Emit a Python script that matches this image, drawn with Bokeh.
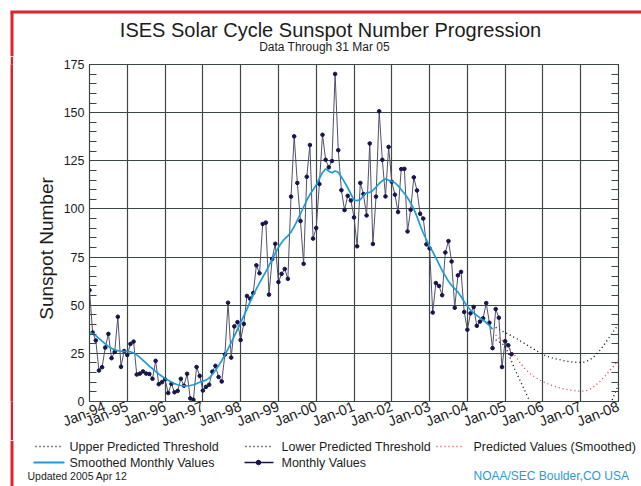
import math
import numpy as np
from bokeh.plotting import figure
from bokeh.layouts import column, row
from bokeh.models import Range1d, FixedTicker, SingleIntervalTicker, LinearAxis, Spacer
from bokeh.core.properties import value
from bokeh.embed import file_html
from bokeh.resources import INLINE

# ---------------- data ----------------
MONTHLY_START_YEAR = 1994
monthly_1994 = [57.8, 35.8, 31.7, 16.1, 17.8, 28.0, 35.1, 22.5, 25.7, 44.0, 18.0, 26.2]
monthly_1995 = [24.2, 29.9, 31.1, 14.0, 14.5, 15.6, 14.5, 14.3, 11.8, 21.1, 9.0, 10.0]
monthly_1996 = [11.5, 4.4, 9.2, 4.8, 5.5, 11.8, 8.2, 14.4, 1.6, 0.9, 17.9, 13.3]
monthly_1997 = [5.7, 7.6, 8.7, 15.5, 18.5, 12.7, 10.4, 24.4, 51.3, 22.8, 39.0, 41.2]
monthly_1998 = [31.9, 40.3, 54.8, 53.4, 56.3, 70.7, 66.6, 92.2, 92.9, 55.5, 74.0, 81.9]
monthly_1999 = [62.0, 66.3, 68.8, 63.7, 106.4, 137.7, 113.5, 93.7, 71.5, 116.7, 133.2, 84.6]
monthly_2000 = [90.1, 112.9, 138.5, 125.5, 121.6, 124.9, 170.1, 130.5, 109.7, 99.4, 106.8, 104.4]
monthly_2001 = [95.6, 80.6, 113.5, 107.7, 96.6, 134.0, 81.8, 106.4, 150.7, 125.5, 106.5, 132.2]
monthly_2002 = [114.1, 107.4, 98.4, 120.7, 120.8, 88.3, 99.6, 116.4, 109.6, 97.5, 95.0, 81.6]
monthly_2003 = [79.5, 46.2, 61.5, 60.0, 55.2, 77.4, 83.3, 72.7, 48.7, 65.5, 67.3, 46.5]
monthly_2004 = [37.3, 45.8, 49.1, 39.3, 41.5, 43.2, 51.1, 40.9, 27.7, 48.0, 43.5, 17.9]
monthly_2005 = [31.3, 29.2, 24.5]

smoothed_1994 = [36.0, 35.2, 34.2, 32.8, 31.3, 29.9, 28.6, 27.6, 26.9, 26.4, 26.1, 26.0]
smoothed_1995 = [26.0, 25.8, 25.2, 24.2, 22.9, 21.4, 19.9, 18.4, 17.0, 15.6, 14.3, 13.1]
smoothed_1996 = [12.0, 11.0, 10.1, 9.3, 8.7, 8.3, 8.1, 8.1, 8.3, 8.7, 9.3, 10.0]
smoothed_1997 = [10.6, 11.1, 12.2, 14.0, 16.2, 18.6, 21.3, 24.2, 27.3, 30.6, 34.0, 37.4]
smoothed_1998 = [41.0, 44.5, 48.0, 51.7, 55.2, 58.5, 61.6, 64.5, 67.4, 70.5, 73.8, 77.0]
smoothed_1999 = [80.0, 82.5, 84.5, 86.0, 88.0, 90.8, 94.0, 97.5, 101.0, 104.5, 107.5, 110.0]
smoothed_2000 = [112.5, 115.8, 118.9, 120.8, 119.6, 118.8, 119.7, 119.0, 116.6, 113.9, 111.0, 107.8]
smoothed_2001 = [104.6, 104.3, 104.8, 107.0, 108.3, 108.6, 109.6, 111.3, 113.2, 114.6, 115.6, 114.9]
smoothed_2002 = [114.3, 113.6, 112.0, 110.0, 108.0, 105.8, 103.2, 100.0, 96.0, 91.5, 87.5, 84.0]
smoothed_2003 = [80.8, 77.8, 74.6, 71.3, 68.0, 65.2, 62.4, 60.2, 58.6, 56.8, 54.5, 51.8]
smoothed_2004 = [49.5, 47.5, 46.0, 44.7, 43.4, 42.2, 41.0, 39.4, 37.6]

# predictions, monthly from Oct 2004 to Jan 2008
PRED_START_YEAR = 2004
PRED_START_MONTH = 10
predicted_smoothed = [34.5, 33.0, 31.8,
                      30.5, 28.5, 26.3, 24.0, 21.8, 19.6, 17.6, 15.9, 14.4, 13.2, 12.1, 11.1,
                      10.3, 9.6, 8.9, 8.3, 7.7, 7.2, 6.8, 6.4, 6.1, 5.8, 5.6, 5.4,
                      5.3, 5.4, 5.8, 6.5, 7.5, 8.8, 10.3, 11.9, 13.7, 15.6, 17.5, 19.5,
                      21.5]
upper_threshold = [38.5, 37.5, 36.6,
                   35.8, 35.0, 34.1, 33.2, 32.3, 31.3, 30.3, 29.3, 28.3, 27.3, 26.3, 25.3,
                   24.4, 23.7, 23.1, 22.6, 22.2, 21.8, 21.4, 21.1, 20.8, 20.6, 20.4, 20.3,
                   20.3, 20.5, 21.0, 21.8, 23.0, 24.6, 26.4, 28.5, 30.8, 33.2, 35.6, 37.8,
                   40.0]
lower_threshold = [32.0, 31.0, 30.0,
                   29.0, 25.0, 21.0, 17.0, 13.5, 10.0, 6.5, 3.0, -0.5, None, None, None,
                   None, None, None, None, None, None, None, None, None, None, None, None,
                   None, None, None, None, None, None, None, None, None, -3.0, 0.8, 4.8,
                   9.0]

year_ticks = list(range(1994, 2009))
year_tick_labels = ["Jan-94", "Jan-95", "Jan-96", "Jan-97", "Jan-98", "Jan-99", "Jan-00",
                    "Jan-01", "Jan-02", "Jan-03", "Jan-04", "Jan-05", "Jan-06", "Jan-07",
                    "Jan-08"]
minor_y_ticks = [v for v in range(0, 176, 5) if v % 25 != 0]

TITLE = "ISES Solar Cycle Sunspot Number Progression"
SUBTITLE = "Data Through 31 Mar 05"
Y_LABEL = "Sunspot Number"
LEGEND_LABELS = ["Upper Predicted Threshold", "Lower Predicted Threshold",
                 "Predicted Values (Smoothed)", "Smoothed Monthly Values", "Monthly Values"]
UPDATED = "Updated 2005 Apr 12"
CREDIT = "NOAA/SEC Boulder,CO USA"

# ---------------- build series ----------------
monthly = (monthly_1994 + monthly_1995 + monthly_1996 + monthly_1997 + monthly_1998 +
           monthly_1999 + monthly_2000 + monthly_2001 + monthly_2002 + monthly_2003 +
           monthly_2004 + monthly_2005)
smoothed = (smoothed_1994 + smoothed_1995 + smoothed_1996 + smoothed_1997 + smoothed_1998 +
            smoothed_1999 + smoothed_2000 + smoothed_2001 + smoothed_2002 + smoothed_2003 +
            smoothed_2004)
mx = [MONTHLY_START_YEAR + i / 12 for i in range(len(monthly))]
smx = [MONTHLY_START_YEAR + i / 12 for i in range(len(smoothed))]
p0 = PRED_START_YEAR + (PRED_START_MONTH - 1) / 12
px = [p0 + i / 12 for i in range(len(predicted_smoothed))]

# ---------------- style ----------------
GRID = "#3c4643"
TEXT = "#1c1c1c"
FONT = "Liberation Sans"
RED = "#e8312b"
BORDER = "#e0232b"
BLUE = "#1f9ad6"
NAVY = "#15154a"
CREDIT_BLUE = "#2a9ad6"

W = 641
TOP_H, MID_H, BOT_H = 56, 384, 46
GAP_W, BAR_W = 10, 3            # white gap + red border bar at the left
BX = GAP_W + BAR_W / 2          # centre of the red border line
LABEL_W = 47                    # strip holding the y-axis title
PLOT_LEFT, PLOT_TOP, PLOT_BOTTOM = 89, 64, 401
MAIN_W = W - GAP_W - BAR_W - LABEL_W


def strip(width, height):
    f = figure(width=width, height=height, output_backend="svg", toolbar_location=None,
               x_range=Range1d(0, width), y_range=Range1d(height, 0),
               x_axis_type=None, y_axis_type=None, min_border=0,
               min_border_left=0, min_border_right=0, min_border_top=0,
               min_border_bottom=0)
    f.outline_line_color = None
    f.background_fill_color = "white"
    f.border_fill_color = "white"
    return f


# ---------------- title strip ----------------
top = strip(W, TOP_H)
top.line([BX, BX], [BX, TOP_H], line_color=BORDER, line_width=BAR_W)
top.line([GAP_W, W], [BX, BX], line_color=BORDER, line_width=BAR_W)
top.text(x=[330], y=[29.5], text=[TITLE], text_font=value(FONT),
         text_font_size=value("20px"), text_color=TEXT, text_align="center",
         text_baseline="middle")
top.text(x=[324], y=[46], text=[SUBTITLE], text_font=value(FONT),
         text_font_size=value("12px"), text_color=TEXT, text_align="center",
         text_baseline="middle")

# ---------------- left red border bar ----------------
gap = Spacer(width=GAP_W, height=MID_H, margin=0)
bar = figure(width=BAR_W, height=MID_H, output_backend="svg", toolbar_location=None,
             x_axis_type=None, y_axis_type=None, min_border=0, min_border_left=0,
             min_border_right=0, min_border_top=0, min_border_bottom=0)
bar.outline_line_color = None
bar.background_fill_color = BORDER
bar.border_fill_color = BORDER
bar.grid.visible = False

# ---------------- y-axis title strip (frame aligned with the chart frame) ----------------
x0 = GAP_W + BAR_W
ylab = figure(width=LABEL_W, height=MID_H, output_backend="svg", toolbar_location=None,
              x_range=Range1d(x0, x0 + LABEL_W), y_range=Range1d(PLOT_BOTTOM, PLOT_TOP),
              x_axis_type=None, y_axis_type=None, min_border=0, min_border_left=0,
              min_border_right=0, min_border_top=0, min_border_bottom=0)
ylab.outline_line_color = None
ylab.background_fill_color = "white"
ylab.border_fill_color = "white"
ylab.text(x=[46], y=[248], text=[Y_LABEL], text_font=value(FONT),
          text_font_size=value("19px"), text_color=TEXT, text_align="center",
          text_baseline="middle", angle=math.pi / 2)

# ---------------- main chart ----------------
p = figure(width=MAIN_W, height=MID_H, output_backend="svg", toolbar_location=None,
           x_range=Range1d(1994, 2008), y_range=Range1d(0, 175),
           min_border_left=PLOT_LEFT - x0 - LABEL_W, min_border_right=23,
           min_border_top=PLOT_TOP - TOP_H, min_border_bottom=TOP_H + MID_H - PLOT_BOTTOM)
p.background_fill_color = "white"
p.border_fill_color = "white"
p.outline_line_color = GRID
p.outline_line_width = 1.2

yt = SingleIntervalTicker(interval=25, num_minor_ticks=5)
p.yaxis.ticker = yt
p.ygrid.ticker = yt
xt = FixedTicker(ticks=year_ticks, minor_ticks=[])
p.xaxis.ticker = xt
p.xgrid.ticker = xt
for g in (p.xgrid, p.ygrid):
    g.grid_line_color = GRID
    g.grid_line_width = 1.2
    g.grid_line_alpha = 1.0

for ax in (p.xaxis, p.yaxis):
    ax.axis_line_color = GRID
    ax.major_tick_in = 0
    ax.major_tick_out = 0
    ax.major_label_text_font = FONT
    ax.major_label_text_color = TEXT

p.yaxis.minor_tick_in = 7
p.yaxis.minor_tick_out = 0
p.yaxis.minor_tick_line_color = GRID
p.yaxis.major_label_text_font_size = "12.5px"
p.yaxis.major_label_standoff = 5

p.xaxis.minor_tick_line_color = None
p.xaxis.major_label_overrides = {t: lab for t, lab in zip(year_ticks, year_tick_labels)}
p.xaxis.major_label_orientation = 0.38
p.xaxis.major_label_text_font_size = "14.5px"
p.xaxis.major_label_standoff = 4

ra = LinearAxis(ticker=FixedTicker(ticks=[], minor_ticks=minor_y_ticks),
                major_tick_in=0, major_tick_out=0, minor_tick_in=7, minor_tick_out=0,
                minor_tick_line_color=GRID, axis_line_color=GRID)
p.add_layout(ra, "right")

p.line(px, upper_threshold, line_color="black", line_width=1.3, line_dash="1 3")
p.line(px, np.array(lower_threshold, dtype=float), line_color="black", line_width=1.3,
       line_dash="1 3")
p.line(px, predicted_smoothed, line_color=RED, line_width=1.3, line_dash="1 3")
p.line(mx, monthly, line_color="#50506c", line_width=1)
p.scatter(mx, monthly, size=3.6, marker="circle", color=NAVY)
p.line(smx, smoothed, line_color=BLUE, line_width=1.7)

# ---------------- legend strip ----------------
bot = strip(W, BOT_H)
bot.line([BX, BX], [0, BOT_H], line_color=BORDER, line_width=BAR_W)
R1, R2, R3 = 6, 22, 35.5
bot.line([35, 62], [R1, R1], line_color="black", line_width=1.3, line_dash="1 3")
bot.line([245, 272], [R1, R1], line_color="black", line_width=1.3, line_dash="1 3")
bot.line([436, 463], [R1, R1], line_color=RED, line_width=1.3, line_dash="1 3")
bot.line([33, 64], [R2, R2], line_color=BLUE, line_width=1.8)
bot.line([244, 273], [R2, R2], line_color=NAVY, line_width=1.3)
bot.scatter([258], [R2], size=4.5, marker="circle", color=NAVY)
bot.text(x=[69, 281, 473, 69, 281], y=[R1, R1, R1, R2, R2], text=LEGEND_LABELS,
         text_font=value(FONT), text_font_size=value("12.5px"), text_color=TEXT,
         text_align="left", text_baseline="middle")
bot.text(x=[27], y=[R3], text=[UPDATED], text_font=value(FONT),
         text_font_size=value("10.5px"), text_color=TEXT, text_align="left",
         text_baseline="middle")
bot.text(x=[473], y=[R3], text=[CREDIT], text_font=value(FONT),
         text_font_size=value("12px"), text_color=CREDIT_BLUE, text_align="left",
         text_baseline="middle")

layout = column(top, row(gap, bar, ylab, p), bot)
open("out.html", "w").write(file_html(layout, INLINE))
